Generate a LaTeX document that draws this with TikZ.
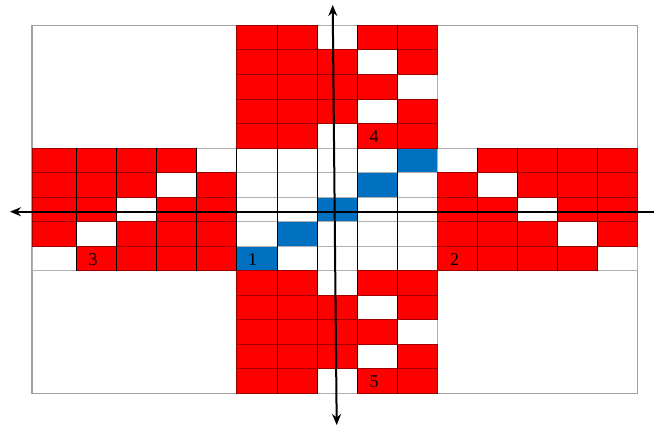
\documentclass[tikz,border=0pt]{standalone}
\usepackage{fontspec}
\setmainfont{Liberation Serif}
\usetikzlibrary{arrows.meta}
\definecolor{cred}{HTML}{FF0000}
\definecolor{cblue}{HTML}{0070C0}
\definecolor{cgrid}{HTML}{B0B0B0}
\definecolor{cframe}{HTML}{A0A0A0}
\definecolor{credline}{HTML}{A00000}
\tikzset{
  pAR/.style={fill=cred,draw=cgrid,line width=0.8bp},
  pAW/.style={fill=white,draw=cgrid,line width=0.8bp},
  pAB/.style={fill=cblue,draw=cgrid,line width=0.8bp},
  pBR/.style={draw=credline,line width=0.8bp},
  pBW/.style={},
  pBB/.style={},
  vline/.style={draw=black,line width=0.8bp},
  axis/.style={draw=black,line width=2bp},
  lbl/.style={font=\fontsize{18bp}{20bp}\selectfont,inner sep=0pt},
}
\def\cellrows{1/6/{R,R,W,R,R},2/6/{R,R,R,W,R},3/6/{R,R,R,R,W},4/6/{R,R,R,W,R},5/6/{R,R,W,R,R},
6/1/{R,R,R,R,W,W,W,W,W,B,W,R,R,R,R},
7/1/{R,R,R,W,R,W,W,W,B,W,R,W,R,R,R},
8/1/{R,R,W,R,R,W,W,B,W,W,R,R,W,R,R},
9/1/{R,W,R,R,R,W,B,W,W,W,R,R,R,W,R},
10/1/{W,R,R,R,R,B,W,W,W,W,R,R,R,R,W},
11/6/{R,R,W,R,R},12/6/{R,R,R,W,R},13/6/{R,R,R,R,W},14/6/{R,R,R,W,R},15/6/{R,R,W,R,R}}
\def\dopath#1{\path[#1] (\xa,\ya) rectangle (\xb,\yb);}
\def\drawcells#1{%
  \foreach \row/\start/\pat in \cellrows {
    \foreach \t [count=\i] in \pat {
      \pgfmathtruncatemacro\col{\start+\i-1}
      \pgfmathsetmacro\xa{\col==1 ? 32 : 76.7+40.04*(\col-2)}
      \pgfmathsetmacro\xb{76.7+40.04*(\col-1)}
      \pgfmathsetmacro\ya{25.3+24.533*(\row-1)}
      \pgfmathsetmacro\yb{25.3+24.533*\row}
      \edef\tmp{\noexpand\dopath{#1\t}}\tmp
    }
  }}
\begin{document}
\begin{tikzpicture}[x=1bp,y=-1bp]
\useasboundingbox (0,0) rectangle (654,428);
% outer frame
\draw[cframe,line width=1.2bp] (32,25.3) rectangle (637.3,393.3);
% cells
\drawcells{pA}
\drawcells{pB}
% black vertical lines
\foreach \k in {1,...,5,11,12,13,14} {
  \pgfmathsetmacro\xx{76.7+40.04*(\k-1)}
  \draw[vline] (\xx,147.97) -- (\xx,270.63);
}
\foreach \k in {6,...,9} {
  \pgfmathsetmacro\xx{76.7+40.04*(\k-1)}
  \draw[vline] (\xx,25.3) -- (\xx,393.3);
}
% labels
\node[lbl] (l1) at (252.5,259.5) {1};
\node[lbl] (l2) at (454.5,259.5) {2};
\node[lbl] (l3) at (93,259.5) {3};
\node[lbl] (l4) at (374,136.5) {4};
\node[lbl] (l5) at (374,381.5) {5};
% axes
\coordinate (hR) at (654,211.7);
\coordinate (hL) at (10,211.7);
\coordinate (vT) at (332.7,5);
\coordinate (vB) at (336.7,425);
\draw[axis,-{Stealth[length=11bp,width=9bp]}] (hR) -- (hL);
\draw[axis,{Stealth[length=11bp,width=9bp]}-{Stealth[length=11bp,width=9bp]}] (vB) -- (vT);
\end{tikzpicture}
\end{document}
